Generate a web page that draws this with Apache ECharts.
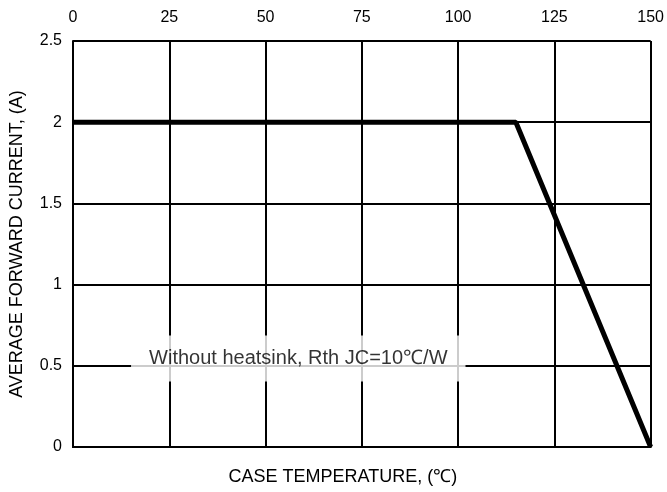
<!DOCTYPE html>
<html>
<head>
<meta charset="utf-8">
<script src="https://cdn.jsdelivr.net/npm/echarts@6/dist/echarts.min.js"></script>
<style>
html,body{margin:0;padding:0;background:#fff;}
#chart{width:667px;height:492px;}
</style>
</head>
<body>
<div id="chart"></div>
<script>
// Data
var caseTemp = [0, 115, 150];
var avgCurrent = [2, 2, 0];
var xTicks = [0, 25, 50, 75, 100, 125, 150];
var yTicks = [0, 0.5, 1, 1.5, 2, 2.5];
var annotationText = 'Without heatsink, Rth JC=10\u2103/W';
var annotationAt = [58.5, 0.545];
var xTitle = 'CASE TEMPERATURE, (\u2103)';
var yTitle = 'AVERAGE FORWARD CURRENT, (A)';

var FONT = '"Liberation Sans", Arial, sans-serif';
var chart = echarts.init(document.getElementById('chart'));
var lineData = caseTemp.map(function (t, i) { return [t, avgCurrent[i]]; });

chart.setOption({
  animation: false,
  backgroundColor: '#fff',
  textStyle: { fontFamily: FONT },
  grid: { left: 70, right: 15, top: 41, bottom: 45, containLabel: false },
  xAxis: [{
    type: 'value', position: 'top', min: xTicks[0], max: xTicks[xTicks.length - 1], interval: 25,
    axisLine: { show: true, lineStyle: { color: '#000', width: 2 } },
    axisTick: { show: false },
    axisLabel: { color: '#000', fontSize: 16, margin: 15, fontFamily: FONT },
    splitLine: { show: true, lineStyle: { color: '#000', width: 2 } }
  }, {
    type: 'value', position: 'bottom', min: xTicks[0], max: xTicks[xTicks.length - 1], interval: 25,
    axisLine: { show: true, lineStyle: { color: '#000', width: 2 } },
    axisTick: { show: false },
    axisLabel: { show: false },
    splitLine: { show: false },
    name: xTitle, nameLocation: 'middle', nameGap: 21,
    nameTextStyle: { color: '#000', fontSize: 18, fontFamily: FONT, padding: [0, 38, 0, 0] }
  }],
  yAxis: [{
    type: 'value', min: yTicks[0], max: yTicks[yTicks.length - 1], interval: 0.5,
    axisLine: { show: true, lineStyle: { color: '#000', width: 2 } },
    axisTick: { show: false },
    axisLabel: { color: '#000', fontSize: 16, margin: 11, fontFamily: FONT },
    splitLine: { show: true, lineStyle: { color: '#000', width: 2 } },
    name: yTitle, nameLocation: 'middle', nameGap: 47, nameRotate: 90,
    nameTextStyle: { color: '#000', fontSize: 18, fontFamily: FONT }
  }],
  series: [{
    type: 'line', xAxisIndex: 0, yAxisIndex: 0,
    data: lineData, symbol: 'none', clip: false,
    lineStyle: { color: '#000', width: 5 }, z: 3
  }, {
    type: 'scatter', xAxisIndex: 0, yAxisIndex: 0,
    data: [annotationAt], symbolSize: 0, z: 4,
    label: {
      show: true, position: 'inside', formatter: annotationText,
      color: '#000', fontSize: 20, fontFamily: FONT,
      backgroundColor: '#fff', padding: [13, 18, 13, 18]
    }
  }]
});
</script>
</body>
</html>
